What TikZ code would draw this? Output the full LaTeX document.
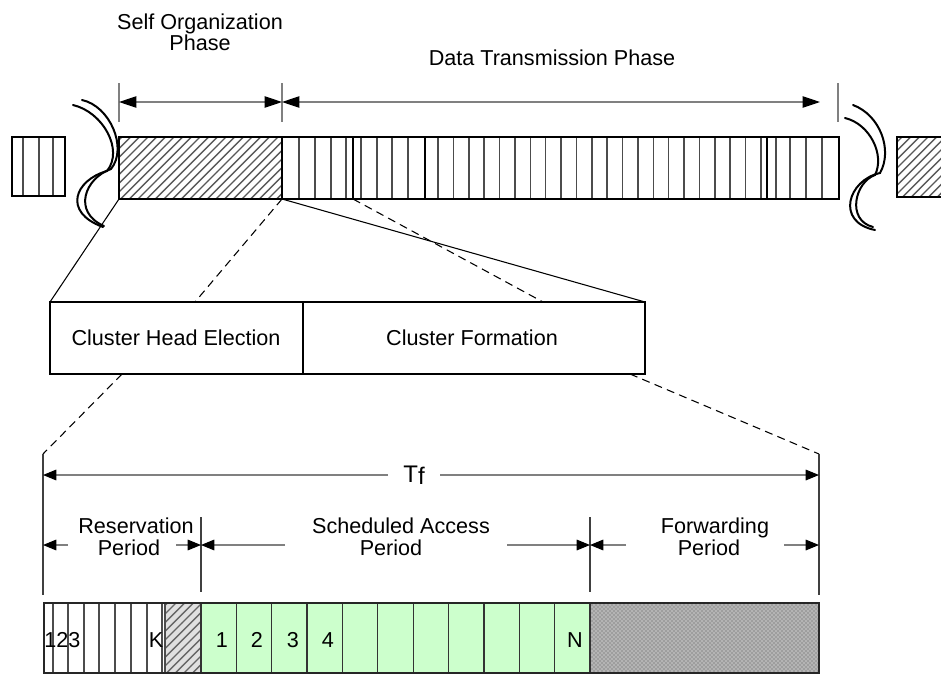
\documentclass[tikz,border=0pt]{standalone}
\usepackage{fontspec}
\setmainfont{Liberation Sans}
\usetikzlibrary{arrows.meta,patterns}
\definecolor{slotgreen}{HTML}{CCFFCC}
\pgfdeclarepatternformonly{widehatch}{\pgfqpoint{-1pt}{-1pt}}{\pgfqpoint{7.5pt}{7.5pt}}{\pgfqpoint{6.5pt}{6.5pt}}{%
  \pgfsetlinewidth{1pt}\pgfpathmoveto{\pgfqpoint{0pt}{0pt}}\pgfpathlineto{\pgfqpoint{6.6pt}{6.6pt}}\pgfusepath{stroke}}
\begin{document}
\begin{tikzpicture}[x=0.75pt,y=-0.75pt,
  lbl/.style={font=\fontsize{16.2}{19}\selectfont, inner sep=0pt, anchor=base},
  thickbox/.style={draw=black, line width=2.2pt},
  thinsep/.style={draw=black!70, line width=1.1pt},
  divider/.style={draw=black, line width=2pt},
  slotline/.style={draw=black!80, line width=1pt},
  dimline/.style={draw=black!50, line width=0.8pt},
  bigboth/.style={arrows={Triangle[length=13pt,width=8.5pt,color=black]-Triangle[length=13pt,width=8.5pt,color=black]}},
  endtip/.style={arrows={-Triangle[length=10pt,width=8pt,color=black]}},
  conn/.style={draw=black, line width=0.8pt},
  dconn/.style={draw=black, line width=0.8pt, dash pattern=on 6pt off 4pt},
  brk/.style={draw=black, line width=1.5pt, line cap=round}]
\useasboundingbox (0,0) rectangle (941,675);
\clip (0,0) rectangle (941,675);

% ---------- top labels ----------
\node[lbl] (soA) at (200,29) {Self Organization};
\node[lbl] (soB) at (200,50) {Phase};
\node[lbl] (dtp) at (552,65) {Data Transmission Phase};

% ---------- top dimension arrows ----------
\coordinate (tk1a) at (119,83); \coordinate (tk1b) at (119,122);
\coordinate (tk2a) at (282,83); \coordinate (tk2b) at (282,122);
\coordinate (tk3a) at (838,83); \coordinate (tk3b) at (838,122);
\draw[dimline] (tk1a) -- (tk1b);
\draw[dimline] (tk2a) -- (tk2b);
\draw[dimline] (tk3a) -- (tk3b);
\coordinate (so1) at (119,102); \coordinate (so2) at (282,102); \coordinate (dt2) at (820,102);
\draw[dimline,bigboth] (so1) -- (so2);
\draw[dimline,bigboth] (so2) -- (dt2);

% ---------- top bar ----------
\foreach \x in {23,39,53} \draw[thinsep] (\x,137) -- (\x,196);
\draw[thickbox] (12,137) rectangle (65,196);
\fill[pattern=widehatch, pattern color=black!65] (119,137) rectangle (282,199);
\foreach \x in {299,315,331,346,361,377,392,408,776,790,806,822}
  \draw[thinsep] (\x,137) -- (\x,199);
\foreach \i in {0,...,21}
  \draw[thinsep] ({438+15.38*\i},137) -- ({438+15.38*\i},199);
\foreach \x in {282,353,425,767}
  \draw[divider] (\x,137) -- (\x,199);
\draw[thickbox] (119,137) rectangle (839,199);
\fill[pattern=widehatch, pattern color=black!65] (897,137) rectangle (950,197);
\draw[thickbox] (897,137) rectangle (950,197);

% ---------- break marks ----------
\draw[brk] (73,105) .. controls (103,112) and (124,150) .. (107,171)
           .. controls (75,180) and (62,212) .. (103,227);
\draw[brk] (82,100) .. controls (110,106) and (128,148) .. (111,169)
           .. controls (85,178) and (72,212) .. (104,226);
\draw[brk] (853,105) .. controls (880,115) and (893,150) .. (880,173)
           .. controls (848,180) and (835,222) .. (875,230);
\draw[brk] (845,118) .. controls (870,124) and (885,155) .. (875,175)
           .. controls (855,182) and (846,220) .. (873,227);

% ---------- connectors top -> cluster box ----------
\coordinate (barBL) at (119,199);
\coordinate (barJ) at (282,199);
\coordinate (barK) at (353,199);
\coordinate (clTL) at (50,302);
\coordinate (clTR) at (645,302);
\coordinate (dA) at (195,302);
\coordinate (dB) at (543,302);
\coordinate (dC) at (122,374);
\coordinate (dD) at (630,374);
\coordinate (frTL) at (43,454);
\coordinate (frTR) at (819,454);
\draw[conn] (barBL) -- (clTL);
\draw[conn] (barJ) -- (clTR);
\draw[dconn] (barJ) -- (dA);
\draw[dconn] (barK) -- (dB);
\draw[dconn] (dC) -- (frTL);
\draw[dconn] (dD) -- (frTR);

% ---------- cluster box ----------
\draw[thickbox, fill=white] (50,302) rectangle (645,374);
\draw[divider] (303,302) -- (303,374);
\node[lbl] (che) at (176,345) {Cluster Head Election};
\node[lbl] (cf) at (472,345) {Cluster Formation};

% ---------- bottom dimension lines ----------
\coordinate (vL1) at (43,454); \coordinate (vL2) at (43,595);
\coordinate (vR1) at (819,454); \coordinate (vR2) at (819,595);
\coordinate (vA1) at (201,517); \coordinate (vA2) at (201,592);
\coordinate (vB1) at (590,517); \coordinate (vB2) at (590,592);
\draw[draw=black!75, line width=0.8pt] (vL1) -- (vL2);
\draw[draw=black!75, line width=0.8pt] (vR1) -- (vR2);
\draw[draw=black!75, line width=0.8pt] (vA1) -- (vA2);
\draw[draw=black!75, line width=0.8pt] (vB1) -- (vB2);

\node[lbl] (tf) at (414,482) {\fontsize{18}{20}\selectfont T\raisebox{-0.2ex}{f}};
\coordinate (tfL) at (388,475); \coordinate (tfLe) at (43,475);
\coordinate (tfR) at (440,475); \coordinate (tfRe) at (819,475);
\draw[dimline,endtip] (tfL) -- (tfLe);
\draw[dimline,endtip] (tfR) -- (tfRe);

\node[lbl] (resA) at (136,533) {Reservation};
\node[lbl] (resB) at (129,555) {Period};
\node[lbl] (schA) at (401,533) {Scheduled Access};
\node[lbl] (schB) at (391,555) {Period};
\node[lbl] (fwA) at (715,533) {Forwarding};
\node[lbl] (fwB) at (709,555) {Period};

\coordinate (r1) at (68,545);  \coordinate (r1e) at (43,545);
\coordinate (r2) at (176,545); \coordinate (r2e) at (201,545);
\coordinate (s1) at (285,545); \coordinate (s1e) at (201,545);
\coordinate (s2) at (507,545); \coordinate (s2e) at (590,545);
\coordinate (f1) at (626,545); \coordinate (f1e) at (590,545);
\coordinate (f2) at (784,545); \coordinate (f2e) at (819,545);
\draw[dimline,endtip] (r1) -- (r1e);
\draw[dimline,endtip] (r2) -- (r2e);
\draw[dimline,endtip] (s1) -- (s1e);
\draw[dimline,endtip] (s2) -- (s2e);
\draw[dimline,endtip] (f1) -- (f1e);
\draw[dimline,endtip] (f2) -- (f2e);

% ---------- bottom frame ----------
\fill[slotgreen] (201,603) rectangle (590,673);
\fill[black!38] (590,603) rectangle (819,673);
\fill[pattern=crosshatch dots, pattern color=white] (590,603) rectangle (819,673);
\fill[black!12] (165,603) rectangle (201,673);
\fill[pattern=widehatch, pattern color=black!60] (165,603) rectangle (201,673);
\foreach \x in {53,68,84,99,115,131,147,162,165}
  \draw[slotline, line width=1.2pt, draw=black!70] (\x,603) -- (\x,673);
\foreach \i in {0,...,11}
  \draw[slotline] ({201+35.36*\i},603) -- ({201+35.36*\i},673);
\draw[draw=black!85, line width=1.1pt] (44,603) rectangle (819,673);

\node[lbl, anchor=base west] (n123) at (44,647) {123};
\node[lbl] (nK) at (156,647) {K};
\node[lbl] (n1) at (222,647) {1};
\node[lbl] (n2) at (257,647) {2};
\node[lbl] (n3) at (293,647) {3};
\node[lbl] (n4) at (328,647) {4};
\node[lbl] (nN) at (575,647) {N};
\end{tikzpicture}
\end{document}
